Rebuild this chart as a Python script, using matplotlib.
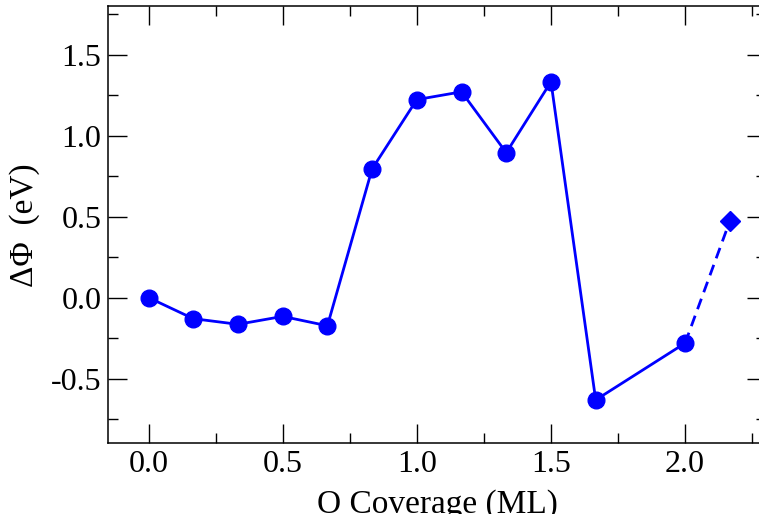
import numpy as np
import matplotlib
matplotlib.use("Agg")
import matplotlib.pyplot as plt
from matplotlib.ticker import MultipleLocator

# coverage (ML) and work function change (eV)
coverage = [0.0, 1/6, 1/3, 0.5, 2/3, 5/6, 1.0, 7/6, 4/3, 1.5, 5/3, 2.0]
dphi = [0.0, -0.13, -0.165, -0.116, -0.174, 0.795, 1.223, 1.271, 0.895, 1.333, -0.632, -0.281]

# extra point, joined by a dashed line
cov_extra = [2.0, 13/6]
dphi_extra = [-0.281, 0.473]

plt.rcParams['font.family'] = ['Liberation Serif', 'DejaVu Serif']
plt.rcParams['axes.unicode_minus'] = False

fig = plt.figure(figsize=(7.59, 5.14), dpi=100)
ax = fig.add_axes([0.1427, 0.1375, 0.866, 0.8505])

blue = '#0000ff'
ax.plot(cov_extra, dphi_extra, '--', color=blue, lw=2, dashes=(4, 2.5))
ax.plot(cov_extra[-1:], dphi_extra[-1:], 'D', color=blue, ms=10.5)
ax.plot(coverage, dphi, '-o', color=blue, lw=2, ms=12)

ax.set_xlim(-0.15, 2.3)
ax.set_ylim(-0.9, 1.8)
ax.xaxis.set_major_locator(MultipleLocator(0.5))
ax.xaxis.set_minor_locator(MultipleLocator(0.25))
ax.yaxis.set_major_locator(MultipleLocator(0.5))
ax.yaxis.set_minor_locator(MultipleLocator(0.25))
ax.tick_params(which='both', direction='in', top=True, right=True, width=1, labelsize=23)
ax.tick_params(which='major', length=13.5, pad=5)
ax.tick_params(which='minor', length=7)
for s in ax.spines.values():
    s.set_linewidth(1.1)
# right edge of the frame falls outside the picture
ax.spines['right'].set_visible(False)

ax.set_xlabel('O Coverage (ML)', fontsize=24, labelpad=7)
ax.set_ylabel('ΔΦ  (eV)', fontsize=24, labelpad=8)

fig.savefig('out.png', dpi=100)
